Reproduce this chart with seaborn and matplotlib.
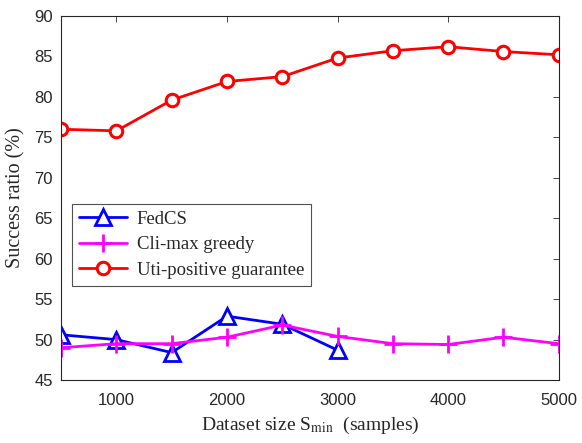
import matplotlib
matplotlib.use("Agg")
import matplotlib.pyplot as plt
import seaborn as sns
import pandas as pd

x_all = [500, 1000, 1500, 2000, 2500, 3000, 3500, 4000, 4500, 5000]
x_fedcs = [500, 1000, 1500, 2000, 2500, 3000]
fedcs = [50.6, 50.0, 48.4, 52.9, 51.9, 48.7]
climax = [49.0, 49.5, 49.5, 50.3, 51.8, 50.4, 49.5, 49.4, 50.3, 49.5]
uti = [76.0, 75.8, 79.6, 81.9, 82.5, 84.8, 85.7, 86.2, 85.6, 85.2]
labels = ["FedCS", "Cli-max greedy", "Uti-positive guarantee"]

sns.set_style("white")
plt.rcParams['font.family'] = ['Liberation Sans', 'DejaVu Sans']
plt.rcParams['mathtext.fontset'] = 'stix'

fig = plt.figure(figsize=(5.82, 4.43), dpi=100)
ax = fig.add_axes([0.105, 0.142, 0.855, 0.822])

serif = ['Liberation Serif', 'DejaVu Serif']

sns.lineplot(x=x_fedcs, y=fedcs, ax=ax, color='#0000ff', marker='^', markersize=11,
             markerfacecolor='white', markeredgecolor='#0000ff', markeredgewidth=2,
             linewidth=2, label=labels[0])
sns.lineplot(x=x_all, y=climax, ax=ax, color='#ff00ff', marker='+', markersize=13,
             markeredgecolor='#ff00ff', markerfacecolor='#ff00ff',
             markeredgewidth=2, linewidth=2, label=labels[1])
sns.lineplot(x=x_all, y=uti, ax=ax, color='#ff0000', marker='o', markersize=9,
             markerfacecolor='white', markeredgecolor='#ff0000', markeredgewidth=2.2,
             linewidth=2, label=labels[2])

ax.set_xlim(500, 5000)
ax.set_ylim(45, 90)
ax.set_xticks([1000, 2000, 3000, 4000, 5000])
ax.set_yticks(range(45, 91, 5))
ax.tick_params(direction='in', top=True, right=True, labelsize=12, length=4, width=0.6)
ax.tick_params(axis='x', pad=9)
ax.tick_params(axis='y', pad=6)
for s in ax.spines.values():
    s.set_linewidth(0.8)
    s.set_color('#262626')

ax.set_xlabel(r'Dataset size S$_{\mathrm{min}}$  (samples)', fontsize=14, family=serif, labelpad=5)
ax.set_ylabel('Success ratio (%)', fontsize=14.5, family=serif, labelpad=6)

leg = ax.legend(loc='upper left', bbox_to_anchor=(0.022, 0.483), borderaxespad=0,
                prop={'family': serif, 'size': 13.5}, frameon=True, fancybox=False,
                edgecolor='#262626', handlelength=2.6, borderpad=0.35, labelspacing=0.45,
                handletextpad=0.5)
leg.get_frame().set_linewidth(0.8)

fig.savefig('out.png', dpi=100)
